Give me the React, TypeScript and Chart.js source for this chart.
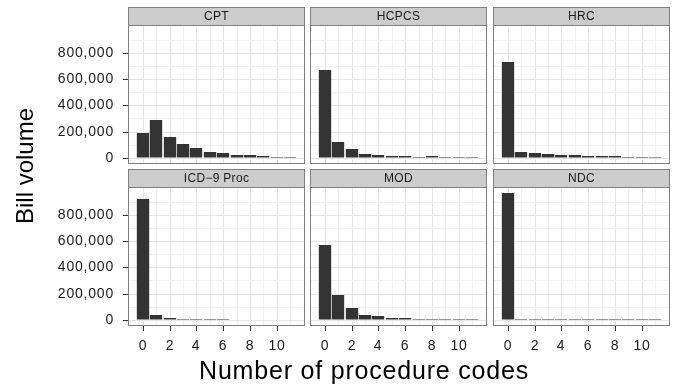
import React, { useEffect, useRef } from 'react';
import { Chart, registerables } from 'chart.js';

Chart.register(...registerables);

// ---------- data ----------
const binCenters = [0, 1, 2, 3, 4, 5, 6, 7, 8, 9, 10, 11];
const xTickLabels = [0, 2, 4, 6, 8, 10];
const xMinorBreaks = [1, 3, 5, 7, 9, 11];
const yTickLabels = [0, 200000, 400000, 600000, 800000];
const yMinorBreaks = [100000, 300000, 500000, 700000, 900000];

const panelNames = ['CPT', 'HCPCS', 'HRC', 'ICD\u22129 Proc', 'MOD', 'NDC'];

const cptCounts = [190000, 287000, 160000, 104000, 76000, 46000, 36000, 18000, 17000, 14000, 8000, 7000];
const hcpcsCounts = [667000, 119000, 66000, 30000, 21000, 13000, 12000, 7000, 12000, 6000, 5000, 5000];
const hrcCounts = [728000, 43000, 36000, 28000, 21000, 20000, 15000, 15000, 12000, 6000, 5000, 5000];
const icd9Counts = [923000, 33000, 12000, 8000, 5000, 5000, 5000, 0, 0, 0, 0, 0];
const modCounts = [569000, 192000, 92000, 38000, 31000, 15000, 15000, 8000, 8000, 8000, 6000, 2000];
const ndcCounts = [966000, 6000, 6000, 6000, 6000, 6000, 6000, 6000, 6000, 2000, 2000, 2000];

const allCounts = [cptCounts, hcpcsCounts, hrcCounts, icd9Counts, modCounts, ndcCounts];

const xAxisTitle = 'Number of procedure codes';
const yAxisTitle = 'Bill volume';

// ---------- layout / style ----------
const PANEL_X = [128, 310, 493];
const PANEL_W = 177;
const ROW_TOP = [7, 169];
const STRIP_H = 18;
const PLOT_H = 139;
const X_AXIS_H = 34;
const FONT = '"Liberation Sans", Arial, Helvetica, sans-serif';

const xSpanLo = Math.min(...binCenters) - 0.5;
const xSpanHi = Math.max(...binCenters) + 0.5;
const X_MIN = xSpanLo - 0.05 * (xSpanHi - xSpanLo);
const X_MAX = xSpanHi + 0.05 * (xSpanHi - xSpanLo);
const yDataMax = Math.max(...allCounts.map((a) => Math.max(...a)));
const Y_MIN = -0.05 * yDataMax;
const Y_MAX = yDataMax * 1.05;

const xGrid = [...xTickLabels, ...xMinorBreaks].sort((a, b) => a - b);
const yGrid = [...yTickLabels, ...yMinorBreaks].sort((a, b) => a - b);

const fmt = (v: number) => String(Math.round(v)).replace(/\B(?=(\d{3})+(?!\d))/g, ',');

const facetPlugin = {
  id: 'facetDecor',
  beforeDraw(chart: any) {
    // slightly wider tracking for tick labels, like the reference rendering
    chart.ctx.letterSpacing = '0.8px';
  },
  afterDraw(chart: any, _args: any, opts: any) {
    const { ctx, chartArea: a } = chart;
    ctx.save();
    ctx.letterSpacing = '0.3px';
    ctx.strokeStyle = '#7f7f7f';
    ctx.lineWidth = 1;
    ctx.strokeRect(a.left + 0.5, a.top + 0.5, a.right - a.left - 1, a.bottom - a.top - 1);
    ctx.fillStyle = '#cccccc';
    ctx.fillRect(a.left, 0, a.right - a.left, STRIP_H);
    ctx.strokeRect(a.left + 0.5, 0.5, a.right - a.left - 1, STRIP_H);
    ctx.fillStyle = '#1a1a1a';
    ctx.font = '12px ' + FONT;
    ctx.textAlign = 'center';
    ctx.textBaseline = 'middle';
    ctx.fillText(opts.label, (a.left + a.right) / 2, STRIP_H / 2 + 1);
    ctx.restore();
  },
};

function Panel({ idx }: { idx: number }) {
  const ref = useRef<HTMLCanvasElement | null>(null);
  const row = Math.floor(idx / 3);
  const col = idx % 3;
  const left = col === 0 ? 0 : PANEL_X[col];
  const width = PANEL_X[col] + PANEL_W - left;
  const height = STRIP_H + PLOT_H + (row === 1 ? X_AXIS_H : 0);

  useEffect(() => {
    if (!ref.current) return;
    const counts = allCounts[idx];
    const chart = new Chart(ref.current, {
      type: 'bar',
      data: {
        datasets: [
          {
            data: binCenters.map((x, i) => ({ x, y: counts[i] })),
            backgroundColor: '#333333',
            borderWidth: 0,
            barPercentage: 0.95,
            categoryPercentage: 1,
          },
        ],
      },
      plugins: [facetPlugin],
      options: {
        animation: false,
        responsive: false,
        devicePixelRatio: 1,
        layout: { padding: { top: STRIP_H, left: 0, right: 0, bottom: 0 } },
        plugins: {
          legend: { display: false },
          tooltip: { enabled: false },
          facetDecor: { label: panelNames[idx] },
        } as any,
        scales: {
          x: {
            type: 'linear',
            min: X_MIN,
            max: X_MAX,
            offset: false,
            alignToPixels: true,
            afterBuildTicks: (s: any) => {
              s.ticks = xGrid.map((v) => ({ value: v }));
            },
            afterFit: (s: any) => {
              s.height = row === 1 ? X_AXIS_H : 0;
              s.paddingLeft = 0;
              s.paddingRight = 0;
            },
            ticks: {
              display: row === 1,
              autoSkip: false,
              maxRotation: 0,
              padding: 7,
              color: '#1a1a1a',
              font: { family: FONT, size: 14 },
              callback: (v: any) => (xTickLabels.includes(Number(v)) ? String(v) : ''),
            },
            grid: {
              offset: false,
              lineWidth: 1,
              color: (c: any) => (xTickLabels.includes(c.tick?.value) ? '#e5e5e5' : '#f2f2f2'),
              drawTicks: row === 1,
              tickLength: 5,
              tickColor: (c: any) => (xTickLabels.includes(c.tick?.value) ? '#333333' : 'rgba(0,0,0,0)'),
            },
            border: { display: false },
          },
          y: {
            type: 'linear',
            min: Y_MIN,
            max: Y_MAX,
            alignToPixels: true,
            afterBuildTicks: (s: any) => {
              s.ticks = yGrid.map((v) => ({ value: v }));
            },
            afterFit: (s: any) => {
              s.width = col === 0 ? PANEL_X[0] : 0;
              s.paddingTop = 0;
              s.paddingBottom = 0;
            },
            ticks: {
              display: col === 0,
              autoSkip: false,
              padding: 9,
              color: '#1a1a1a',
              font: { family: FONT, size: 14 },
              callback: (v: any) => (yTickLabels.includes(Number(v)) ? fmt(Number(v)) : ''),
            },
            grid: {
              lineWidth: 1,
              color: (c: any) => (yTickLabels.includes(c.tick?.value) ? '#e5e5e5' : '#f2f2f2'),
              drawTicks: col === 0,
              tickLength: 5,
              tickColor: (c: any) => (yTickLabels.includes(c.tick?.value) ? '#333333' : 'rgba(0,0,0,0)'),
            },
            border: { display: false },
          },
        },
      } as any,
    });
    return () => chart.destroy();
  }, [idx]);

  return (
    <canvas
      ref={ref}
      width={width}
      height={height}
      style={{ position: 'absolute', left, top: ROW_TOP[row], width, height }}
    />
  );
}

export default function App() {
  return (
    <div
      style={{
        position: 'absolute',
        left: 0,
        top: 0,
        width: 673,
        height: 386,
        background: '#ffffff',
        overflow: 'hidden',
      }}
    >
      {panelNames.map((_, i) => (
        <Panel key={i} idx={i} />
      ))}
      <div
        style={{
          position: 'absolute',
          left: 364 - 250,
          top: 358,
          width: 500,
          textAlign: 'center',
          fontFamily: FONT,
          fontSize: 25,
          lineHeight: '25px',
          letterSpacing: '0.8px',
          color: '#000',
          whiteSpace: 'nowrap',
        }}
      >
        {xAxisTitle}
      </div>
      <div
        style={{
          position: 'absolute',
          left: 25 - 100,
          top: 166 - 12,
          width: 200,
          height: 24,
          textAlign: 'center',
          fontFamily: FONT,
          fontSize: 24,
          lineHeight: '24px',
          color: '#000',
          whiteSpace: 'nowrap',
          transform: 'rotate(-90deg)',
          transformOrigin: '50% 50%',
        }}
      >
        {yAxisTitle}
      </div>
    </div>
  );
}
